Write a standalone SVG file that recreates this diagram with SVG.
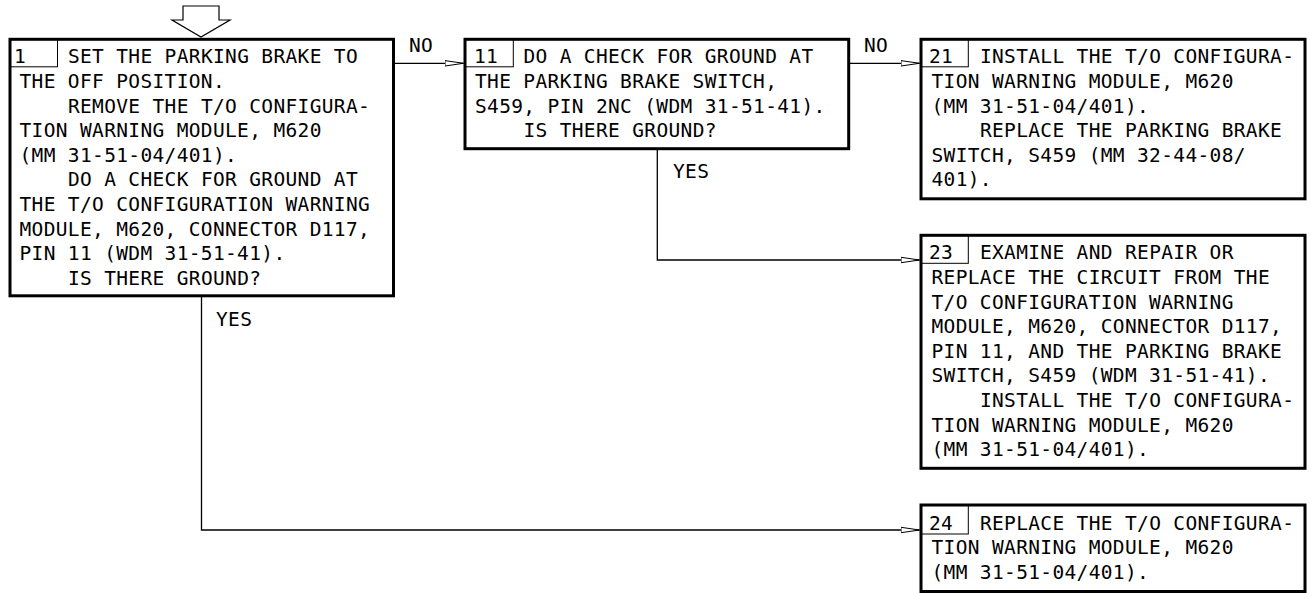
<svg xmlns="http://www.w3.org/2000/svg" width="1311" height="593" viewBox="0 0 1311 593">
<style>
.box{fill:#fff;stroke:#000;stroke-width:3}
.cell{fill:none;stroke:#000;stroke-width:1}
.t{font-family:"DejaVu Sans Mono","Liberation Mono",monospace;font-size:19.5px;letter-spacing:0.35px;fill:#000}
.c{fill:none;stroke:#000;stroke-width:1.3}
.entry{fill:#fff;stroke:#000;stroke-width:1.2}
</style>
<defs>
<marker id="arr" markerUnits="userSpaceOnUse" markerWidth="22" markerHeight="10" refX="19" refY="3.5" orient="auto" viewBox="0 0 22 7">
<path d="M0.5,0.8 L19,3.5 L0.5,6.2 Z" fill="#fff" stroke="#000" stroke-width="1"/>
</marker>
</defs>
<rect width="1311" height="593" fill="#fff"/>
<g id="entry">
<polygon class="entry" points="183,6 219,6 219,20 230,20 201,37 172,20 183,20"/>
</g>
<g id="connectors">
<path class="c" d="M394,63.3 H463.5" marker-end="url(#arr)"/>
<path class="c" d="M849,63.3 H919.5" marker-end="url(#arr)"/>
<path class="c" d="M657.3,149 V260 H919.5" marker-end="url(#arr)"/>
<path class="c" d="M201.5,296 V530 H919.5" marker-end="url(#arr)"/>
<text class="t" x="409" y="52">NO</text>
<text class="t" x="864" y="52">NO</text>
<text class="t" x="216" y="326">YES</text>
<text class="t" x="673" y="178">YES</text>
</g>
<g id="node1">
<rect class="box" x="10" y="39.3" width="383.5" height="256.5"/>
<rect class="cell" x="10" y="39.3" width="47.5" height="27.5"/>
<text class="t" x="14" y="63.3">1</text>
<text class="t" x="67.9" y="63.3">SET THE PARKING BRAKE TO</text>
<text class="t" x="19.5" y="87.9">THE OFF POSITION.</text>
<text class="t" x="67.9" y="112.5">REMOVE THE T/O CONFIGURA-</text>
<text class="t" x="19.5" y="137.1">TION WARNING MODULE, M620</text>
<text class="t" x="19.5" y="161.7">(MM 31-51-04/401).</text>
<text class="t" x="67.9" y="186.3">DO A CHECK FOR GROUND AT</text>
<text class="t" x="19.5" y="210.9">THE T/O CONFIGURATION WARNING</text>
<text class="t" x="19.5" y="235.5">MODULE, M620, CONNECTOR D117,</text>
<text class="t" x="19.5" y="260.1">PIN 11 (WDM 31-51-41).</text>
<text class="t" x="67.9" y="284.7">IS THERE GROUND?</text>
</g>
<g id="node11">
<rect class="box" x="465" y="39.3" width="383.7" height="109.4"/>
<rect class="cell" x="465" y="39.3" width="48.3" height="27.5"/>
<text class="t" x="474" y="63.3">11</text>
<text class="t" x="523.4" y="63.3">DO A CHECK FOR GROUND AT</text>
<text class="t" x="475" y="87.9">THE PARKING BRAKE SWITCH,</text>
<text class="t" x="475" y="112.5">S459, PIN 2NC (WDM 31-51-41).</text>
<text class="t" x="523.4" y="137.1">IS THERE GROUND?</text>
</g>
<g id="node21">
<rect class="box" x="921" y="39.3" width="384" height="159.5"/>
<rect class="cell" x="921" y="39.3" width="47.3" height="27.5"/>
<text class="t" x="929" y="63.3">21</text>
<text class="t" x="979.9" y="63.3">INSTALL THE T/O CONFIGURA-</text>
<text class="t" x="931.5" y="87.9">TION WARNING MODULE, M620</text>
<text class="t" x="931.5" y="112.5">(MM 31-51-04/401).</text>
<text class="t" x="979.9" y="137.1">REPLACE THE PARKING BRAKE</text>
<text class="t" x="931.5" y="161.7">SWITCH, S459 (MM 32-44-08/</text>
<text class="t" x="931.5" y="186.3">401).</text>
</g>
<g id="node23">
<rect class="box" x="921" y="235.3" width="384" height="233"/>
<rect class="cell" x="921" y="235.3" width="47.3" height="28"/>
<text class="t" x="929" y="259.3">23</text>
<text class="t" x="979.9" y="259.3">EXAMINE AND REPAIR OR</text>
<text class="t" x="931.5" y="283.9">REPLACE THE CIRCUIT FROM THE</text>
<text class="t" x="931.5" y="308.5">T/O CONFIGURATION WARNING</text>
<text class="t" x="931.5" y="333.1">MODULE, M620, CONNECTOR D117,</text>
<text class="t" x="931.5" y="357.7">PIN 11, AND THE PARKING BRAKE</text>
<text class="t" x="931.5" y="382.3">SWITCH, S459 (WDM 31-51-41).</text>
<text class="t" x="979.9" y="406.9">INSTALL THE T/O CONFIGURA-</text>
<text class="t" x="931.5" y="431.5">TION WARNING MODULE, M620</text>
<text class="t" x="931.5" y="456.1">(MM 31-51-04/401).</text>
</g>
<g id="node24">
<rect class="box" x="921" y="505" width="384" height="86.5"/>
<rect class="cell" x="921" y="505" width="47.3" height="29"/>
<text class="t" x="929" y="529.5">24</text>
<text class="t" x="979.9" y="529.5">REPLACE THE T/O CONFIGURA-</text>
<text class="t" x="931.5" y="554.1">TION WARNING MODULE, M620</text>
<text class="t" x="931.5" y="578.7">(MM 31-51-04/401).</text>
</g>
</svg>
